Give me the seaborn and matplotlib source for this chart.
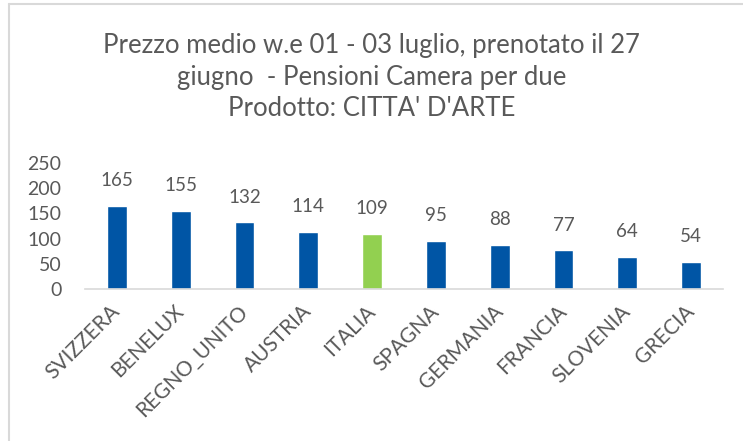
import pandas as pd
import seaborn as sns
from matplotlib import pyplot as plt
from matplotlib.lines import Line2D

paesi = ["SVIZZERA", "BENELUX", "REGNO_UNITO", "AUSTRIA", "ITALIA",
         "SPAGNA", "GERMANIA", "FRANCIA", "SLOVENIA", "GRECIA"]
prezzi = [165, 155, 132, 114, 109, 95, 88, 77, 64, 54]
yticks = [0, 50, 100, 150, 200, 250]
titolo = "Prezzo medio w.e 01 - 03 luglio, prenotato il 27\ngiugno  - Pensioni Camera per due\nProdotto: CITTA' D'ARTE"

blu = "#0055A5"
verde = "#92D050"
grigio = "#595959"

df = pd.DataFrame({"paese": paesi, "prezzo": prezzi})
colori = [verde if p == "ITALIA" else blu for p in paesi]

sns.set_style("white")
plt.rcParams['font.family'] = ['Lato', 'DejaVu Sans']

fig = plt.figure(figsize=(7.43, 4.41), dpi=100)
ax = fig.add_axes([85 / 743, (441 - 289) / 441, 638 / 743, 126 / 441])

sns.barplot(x="paese", y="prezzo", data=df, hue="paese", palette=colori,
            legend=False, width=0.31, ax=ax, saturation=1)

for c in ax.containers:
    ax.bar_label(c, padding=12, fontsize=13.5, color=grigio)

ax.set_ylim(0, 250)
ax.set_yticks(yticks)
ax.set_xlim(-0.5, len(paesi) - 0.5)
ax.set_xlabel("")
ax.set_ylabel("")
for s in ["top", "right", "left"]:
    ax.spines[s].set_visible(False)
ax.spines["bottom"].set_color("#D9D9D9")
ax.spines["bottom"].set_linewidth(1.2)
ax.tick_params(axis="y", length=0, labelsize=14, labelcolor=grigio, pad=17)
ax.tick_params(axis="x", length=0, labelsize=15, labelcolor=grigio, pad=14)
plt.setp(ax.get_xticklabels(), rotation=45, ha="right", va="center",
         rotation_mode="anchor")

fig.text(0.5, 1 - 77 / 441, titolo, ha="center", va="center", fontsize=18.5,
         color=grigio, linespacing=1.3)

# bordo dell'area del grafico (solo sinistra e alto visibili)
fig.add_artist(Line2D([8.5 / 743, 8.5 / 743], [0, 1 - 3.5 / 441],
                      transform=fig.transFigure, color="#D9D9D9", lw=1.5))
fig.add_artist(Line2D([8.5 / 743, 1], [1 - 3.5 / 441, 1 - 3.5 / 441],
                      transform=fig.transFigure, color="#D9D9D9", lw=1.5))

fig.savefig("out.png", dpi=100)
